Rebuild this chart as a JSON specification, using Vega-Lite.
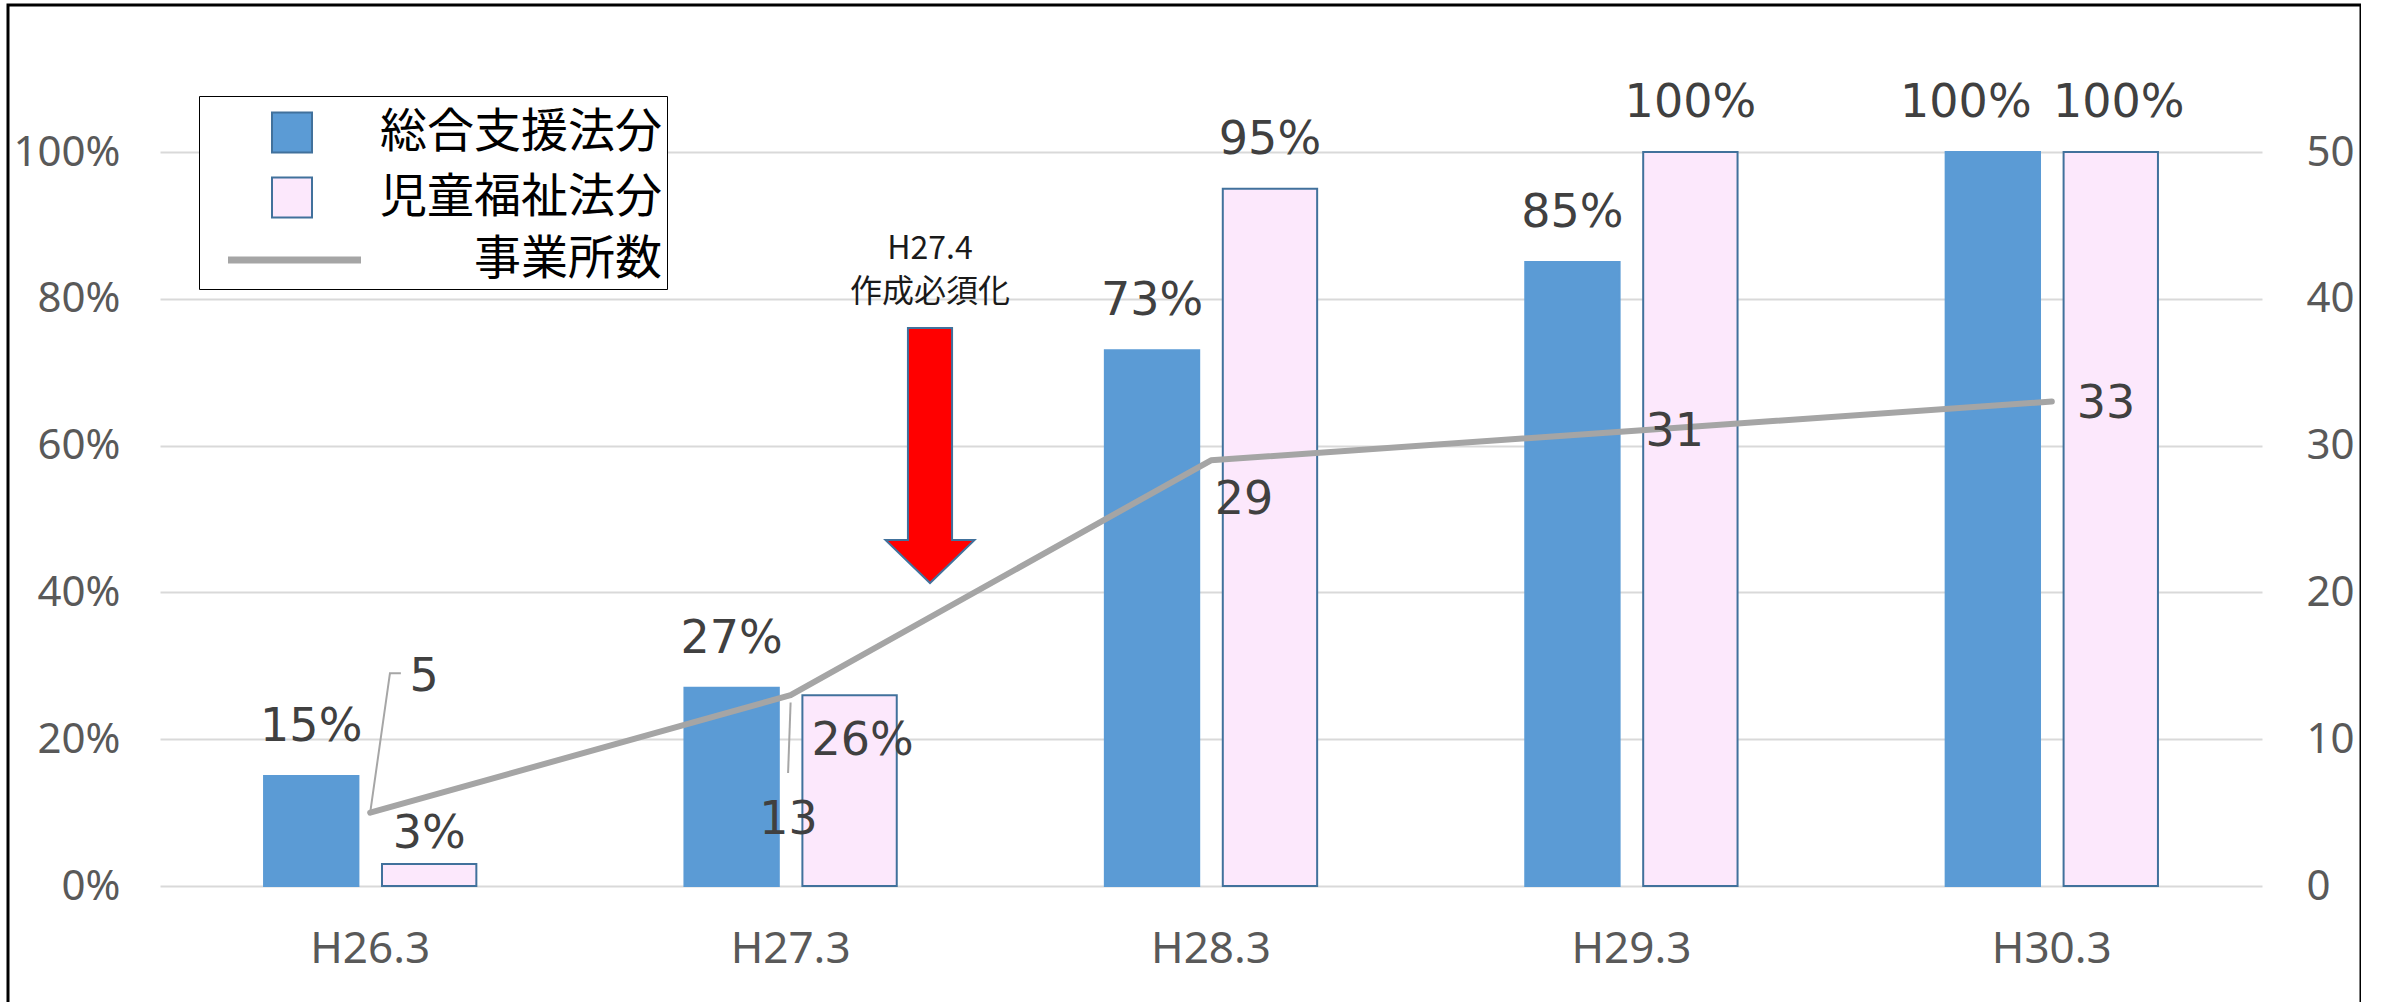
{
  "$schema": "https://vega.github.io/schema/vega-lite/v6.json",
  "width": 2353,
  "height": 1010,
  "autosize": {"type": "none"},
  "padding": {"left": 8, "top": 5, "right": 0, "bottom": 0},
  "background": "#FFFFFF",
  "config": {
    "view": {"stroke": "#000000", "strokeWidth": 3},
    "font": "Noto Sans",
    "text": {"font": "DejaVu Sans"}
  },
  "datasets": {
    "bars": [
      {"cat": "H26.3", "series": "総合支援法分", "pct": 0.15},
      {"cat": "H26.3", "series": "児童福祉法分", "pct": 0.03},
      {"cat": "H27.3", "series": "総合支援法分", "pct": 0.27},
      {"cat": "H27.3", "series": "児童福祉法分", "pct": 0.26},
      {"cat": "H28.3", "series": "総合支援法分", "pct": 0.73},
      {"cat": "H28.3", "series": "児童福祉法分", "pct": 0.95},
      {"cat": "H29.3", "series": "総合支援法分", "pct": 0.85},
      {"cat": "H29.3", "series": "児童福祉法分", "pct": 1.0},
      {"cat": "H30.3", "series": "総合支援法分", "pct": 1.0},
      {"cat": "H30.3", "series": "児童福祉法分", "pct": 1.0}
    ],
    "line": [
      {"cat": "H26.3", "series": "事業所数", "count": 5},
      {"cat": "H27.3", "series": "事業所数", "count": 13},
      {"cat": "H28.3", "series": "事業所数", "count": 29},
      {"cat": "H29.3", "series": "事業所数", "count": 31},
      {"cat": "H30.3", "series": "事業所数", "count": 33}
    ],
    "leaders": [
      {"leader": "a", "ord": 1, "xq": 0.5, "pct": 0.1},
      {"leader": "a", "ord": 2, "xq": 0.547, "pct": 0.29},
      {"leader": "a", "ord": 3, "xq": 0.573, "pct": 0.29},
      {"leader": "b", "ord": 1, "xq": 1.5, "pct": 0.25},
      {"leader": "b", "ord": 2, "xq": 1.494, "pct": 0.154}
    ],
    "annot": [
      {"xq": 1.8316, "top": 0.76, "mid": 0.5865, "label1": "H27.4", "label2": "作成必須化"}
    ]
  },
  "layer": [
    {
      "data": {"name": "bars"},
      "encoding": {
        "x": {
          "field": "cat", "type": "nominal", "sort": null,
          "scale": {"type": "band", "range": [152, 2254], "paddingInner": 0.495, "paddingOuter": 0.2475},
          "axis": {"orient": "bottom", "offset": -129, "title": null, "labelAngle": 0, "labelFontSize": 44, "labelColor": "#595959", "labelPadding": 41, "ticks": false, "tickSize": 0, "domain": false, "grid": false, "labelFont": "Noto Sans"}
        },
        "y": {
          "field": "pct", "type": "quantitative",
          "scale": {"domain": [0, 1], "range": [881, 147], "nice": false, "zero": true},
          "axis": {"orient": "left", "offset": -152, "title": null, "values": [0, 0.2, 0.4, 0.6, 0.8, 1], "format": ".0%", "grid": true, "gridColor": "#D9D9D9", "gridWidth": 2, "ticks": false, "tickSize": 0, "domain": false, "labelFontSize": 42, "labelColor": "#595959", "labelPadding": 40, "labelFont": "Noto Sans"}
        },
        "xOffset": {"field": "series", "type": "nominal", "sort": ["総合支援法分", "児童福祉法分"], "scale": {"paddingInner": 0.2, "paddingOuter": 0}}
      },
      "layer": [
        {
          "mark": {"type": "bar", "strokeWidth": 2},
          "encoding": {
            "color": {
              "field": "series", "type": "nominal",
              "scale": {"domain": ["総合支援法分", "児童福祉法分"], "range": ["#5B9BD5", "#FCE8FC"]},
              "legend": {
                "title": " ", "titleOrient": "bottom", "titleFontSize": 44, "titlePadding": 11,
                "orient": "none", "legendX": 191, "legendY": 91,
                "direction": "vertical", "columns": 1,
                "strokeColor": "#000000", "fillColor": "#FFFFFF", "padding": 5,
                "labelFont": "Noto Sans CJK JP", "labelFontSize": 47, "labelColor": "#000000",
                "labelAlign": "right", "labelOffset": 346.5, "labelLimit": 0,
                "symbolType": "square", "symbolSize": 1600, "symbolStrokeWidth": 2, "symbolStrokeColor": "#41719C", "symbolOffset": 64.5,
                "clipHeight": 63, "rowPadding": 2
              }
            },
            "stroke": {"condition": {"test": "datum.series === '児童福祉法分'", "value": "#41719C"}, "value": "#5B9BD5"}
          }
        },
        {
          "transform": [{"filter": "(datum.series === '総合支援法分' || datum.pct >= 0.9) && datum.cat !== 'H30.3'"}],
          "mark": {"type": "text", "dy": -49, "fontSize": 46, "color": "#404040", "baseline": "middle", "align": "center"},
          "encoding": {"text": {"field": "pct", "type": "quantitative", "format": ".0%"}}
        },
        {
          "transform": [{"filter": "datum.series === '総合支援法分' && datum.cat === 'H30.3'"}],
          "mark": {"type": "text", "dy": -49, "dx": -27, "fontSize": 46, "color": "#404040", "baseline": "middle", "align": "center"},
          "encoding": {"text": {"field": "pct", "type": "quantitative", "format": ".0%"}}
        },
        {
          "transform": [{"filter": "datum.series === '児童福祉法分' && datum.cat === 'H30.3'"}],
          "mark": {"type": "text", "dy": -49, "dx": 8, "fontSize": 46, "color": "#404040", "baseline": "middle", "align": "center"},
          "encoding": {"text": {"field": "pct", "type": "quantitative", "format": ".0%"}}
        },
        {
          "transform": [{"filter": "datum.series === '児童福祉法分' && datum.cat === 'H26.3'"}],
          "mark": {"type": "text", "dy": -30, "fontSize": 46, "color": "#404040", "baseline": "middle", "align": "center"},
          "encoding": {"text": {"field": "pct", "type": "quantitative", "format": ".0%"}}
        },
        {
          "transform": [{"filter": "datum.series === '児童福祉法分' && datum.cat === 'H27.3'"}],
          "mark": {"type": "text", "dy": 46, "dx": 13, "fontSize": 46, "color": "#404040", "baseline": "middle", "align": "center"},
          "encoding": {"text": {"field": "pct", "type": "quantitative", "format": ".0%"}}
        }
      ]
    },
    {
      "data": {"name": "line"},
      "encoding": {
        "x": {
          "field": "cat", "type": "nominal", "sort": null,
          "scale": {"type": "band", "range": [152, 2254], "paddingInner": 0.495, "paddingOuter": 0.2475},
          "axis": null
        },
        "y": {
          "field": "count", "type": "quantitative",
          "scale": {"domain": [0, 50], "range": [881, 147], "nice": false},
          "axis": {"orient": "right", "offset": -99, "title": null, "values": [0, 10, 20, 30, 40, 50], "grid": false, "ticks": false, "tickSize": 0, "domain": false, "labelFontSize": 42, "labelColor": "#595959", "labelPadding": 44, "labelFont": "Noto Sans"}
        }
      },
      "layer": [
        {
          "mark": {"type": "line", "strokeWidth": 6, "strokeCap": "round", "strokeJoin": "round"},
          "encoding": {
            "stroke": {
              "field": "series", "type": "nominal",
              "scale": {"domain": ["事業所数"], "range": ["#A5A5A5"]},
              "legend": {
                "title": null, "orient": "none", "legendX": 196, "legendY": 223.5,
                "direction": "vertical", "columns": 1,
                "padding": 0,
                "labelFont": "Noto Sans CJK JP", "labelFontSize": 47, "labelColor": "#000000",
                "labelAlign": "right", "labelOffset": 297.5, "labelLimit": 0,
                "symbolType": "stroke", "symbolSize": 17689, "symbolStrokeWidth": 7, "symbolOffset": 20.5,
                "clipHeight": 63
              }
            }
          }
        },
        {
          "transform": [{"filter": "datum.cat === 'H26.3'"}],
          "mark": {"type": "text", "dx": 54, "dy": -136, "fontSize": 46, "color": "#404040", "baseline": "middle", "align": "center"},
          "encoding": {"text": {"field": "count", "type": "quantitative"}}
        },
        {
          "transform": [{"filter": "datum.cat === 'H27.3'"}],
          "mark": {"type": "text", "dx": -2, "dy": 125, "fontSize": 46, "color": "#404040", "baseline": "middle", "align": "center"},
          "encoding": {"text": {"field": "count", "type": "quantitative"}}
        },
        {
          "transform": [{"filter": "datum.cat === 'H28.3'"}],
          "mark": {"type": "text", "dx": 33, "dy": 40, "fontSize": 46, "color": "#404040", "baseline": "middle", "align": "center"},
          "encoding": {"text": {"field": "count", "type": "quantitative"}}
        },
        {
          "transform": [{"filter": "datum.cat === 'H29.3'"}],
          "mark": {"type": "text", "dx": 14, "dy": 1, "fontSize": 46, "color": "#404040", "baseline": "middle", "align": "left"},
          "encoding": {"text": {"field": "count", "type": "quantitative"}}
        },
        {
          "transform": [{"filter": "datum.cat === 'H30.3'"}],
          "mark": {"type": "text", "dx": 25, "dy": 2, "fontSize": 46, "color": "#404040", "baseline": "middle", "align": "left"},
          "encoding": {"text": {"field": "count", "type": "quantitative"}}
        }
      ]
    },
    {
      "encoding": {
        "x": {"field": "xq", "type": "quantitative", "scale": {"domain": [0, 5], "range": [152, 2254], "nice": false, "zero": false}, "axis": null}
      },
      "layer": [
        {
          "data": {"name": "leaders"},
          "mark": {"type": "line", "stroke": "#A6A6A6", "strokeWidth": 2},
          "encoding": {
            "y": {"field": "pct", "type": "quantitative", "scale": {"domain": [0, 1], "range": [881, 147], "nice": false}, "axis": null},
            "detail": {"field": "leader", "type": "nominal"},
            "order": {"field": "ord", "type": "quantitative"}
          }
        },
        {
          "data": {"name": "annot"},
          "mark": {"type": "point", "shape": "M-0.173,-1L0.173,-1L0.173,0.663L0.349,0.663L0,1L-0.349,0.663L-0.173,0.663Z", "size": 65025, "filled": true, "fill": "#FF0000", "stroke": "#41719C", "strokeWidth": 2, "opacity": 1},
          "encoding": {
            "y": {"field": "mid", "type": "quantitative", "scale": {"domain": [0, 1], "range": [881, 147], "nice": false}, "axis": null}
          }
        },
        {
          "data": {"name": "annot"},
          "mark": {"type": "text", "font": "Noto Sans CJK JP", "fontSize": 32, "color": "#1A1A1A", "align": "center", "baseline": "bottom", "dy": -62},
          "encoding": {
            "y": {"field": "top", "type": "quantitative", "scale": {"domain": [0, 1], "range": [881, 147], "nice": false}, "axis": null},
            "text": {"field": "label1", "type": "nominal"}
          }
        },
        {
          "data": {"name": "annot"},
          "mark": {"type": "text", "font": "Noto Sans CJK JP", "fontSize": 32, "color": "#1A1A1A", "align": "center", "baseline": "bottom", "dy": -19},
          "encoding": {
            "y": {"field": "top", "type": "quantitative", "scale": {"domain": [0, 1], "range": [881, 147], "nice": false}, "axis": null},
            "text": {"field": "label2", "type": "nominal"}
          }
        }
      ]
    }
  ],
  "resolve": {"scale": {"x": "independent", "y": "independent"}}
}
